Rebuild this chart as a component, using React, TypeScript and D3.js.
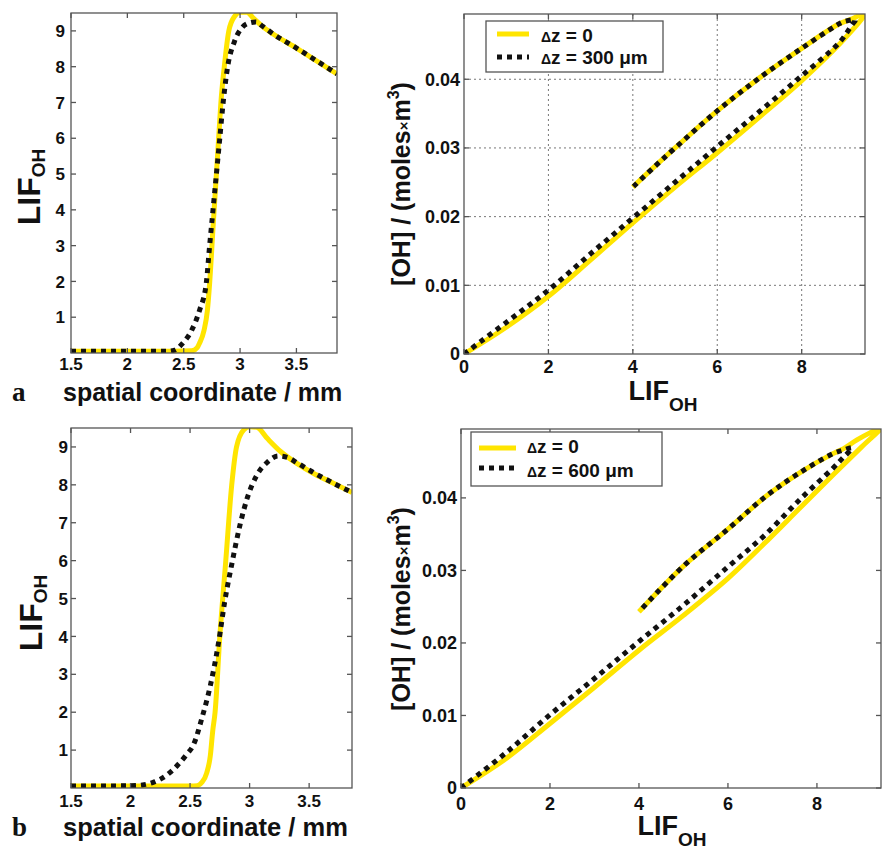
import React from "react";
import * as d3 from "d3";

type Pt = [number, number];

// tick values
const profileXTicks = [1.5, 2, 2.5, 3, 3.5];
const profileYTicks = [1, 2, 3, 4, 5, 6, 7, 8, 9];
const calibXTicks = [0, 2, 4, 6, 8];
const calibYTicks = [0, 0.01, 0.02, 0.03, 0.04];

// panel a, left: LIF_OH vs spatial coordinate (mm)
const profileA0: Pt[] = [
  [1.5, 0.05], [2.0, 0.05], [2.4, 0.05], [2.57, 0.06], [2.62, 0.15], [2.64, 0.27], [2.68, 0.63],
  [2.71, 1.19], [2.73, 1.95], [2.76, 3.5], [2.79, 5.0], [2.81, 6.0], [2.83, 7.0], [2.86, 8.0],
  [2.9, 9.0], [2.95, 9.4], [3.0, 9.52], [3.06, 9.52], [3.12, 9.35], [3.2, 9.12], [3.3, 8.9],
  [3.5, 8.52], [3.7, 8.12], [3.86, 7.8],
];
const profileA300: Pt[] = [
  [1.5, 0.05], [2.0, 0.05], [2.35, 0.05], [2.42, 0.08], [2.49, 0.27], [2.57, 0.63], [2.64, 1.19],
  [2.7, 1.95], [2.73, 3.0], [2.76, 4.0], [2.79, 5.0], [2.82, 6.0], [2.85, 7.0], [2.89, 8.0],
  [2.95, 8.7], [3.02, 9.1], [3.08, 9.22], [3.14, 9.25], [3.2, 9.13], [3.3, 8.9], [3.5, 8.52],
  [3.7, 8.12], [3.86, 7.8],
];

// panel b, left
const profileB0: Pt[] = [
  [1.5, 0.05], [2.0, 0.05], [2.5, 0.05], [2.56, 0.06], [2.6, 0.15], [2.64, 0.4], [2.67, 0.85],
  [2.69, 1.5], [2.71, 2.0], [2.75, 4.0], [2.8, 6.0], [2.85, 8.0], [2.89, 9.0], [2.95, 9.45],
  [3.0, 9.53], [3.06, 9.52], [3.15, 9.22], [3.26, 8.88], [3.4, 8.56], [3.55, 8.28], [3.7, 8.05],
  [3.86, 7.8],
];
const profileB600: Pt[] = [
  [1.5, 0.05], [2.0, 0.06], [2.1, 0.08], [2.2, 0.16], [2.3, 0.33], [2.4, 0.62], [2.47, 0.88],
  [2.53, 1.15], [2.6, 1.85], [2.67, 2.7], [2.74, 3.85], [2.79, 4.9], [2.85, 5.9], [2.92, 6.95],
  [2.98, 7.65], [3.06, 8.25], [3.15, 8.6], [3.24, 8.76], [3.32, 8.72], [3.4, 8.58], [3.55, 8.3],
  [3.7, 8.05], [3.86, 7.8],
];

// panel a, right: [OH] vs LIF_OH (loops)
const calibA0: Pt[] = [
  [0, 0], [1, 0.0039], [2, 0.0084], [3, 0.0137], [4, 0.0191], [5, 0.0243], [6, 0.0293],
  [7, 0.0345], [8, 0.0398], [9, 0.0458], [9.5, 0.0496],
  [9.2, 0.0488], [8.84, 0.0479], [8, 0.0445], [7, 0.0402], [6, 0.0354], [5, 0.0300],
  [4.5, 0.0272], [4, 0.0243],
];
const calibA300: Pt[] = [
  [0, 0], [1, 0.0046], [2, 0.0093], [3, 0.0146], [4, 0.0198], [5, 0.025], [6, 0.0302],
  [7, 0.0353], [8, 0.0405], [8.9, 0.0454], [9.2, 0.048], [9.27, 0.0486],
  [9.0, 0.0484], [8.84, 0.0479], [8, 0.0445], [7, 0.0402], [6, 0.0354], [5, 0.0300],
  [4.5, 0.0272], [4, 0.0243],
];

// panel b, right
const calibB0: Pt[] = [
  [0, 0], [1, 0.004], [2, 0.0089], [3, 0.0139], [4, 0.019], [5, 0.0238], [6, 0.0289],
  [6.8, 0.0336], [7.6, 0.0385], [8.4, 0.0434], [9.0, 0.047], [9.45, 0.0497],
  [9.2, 0.049], [8.9, 0.048], [8.6, 0.0468], [8.36, 0.0461], [7.62, 0.0435], [6.87, 0.0403],
  [6, 0.0357], [5, 0.0306], [4, 0.0243],
];
const calibB600: Pt[] = [
  [0, 0], [1, 0.0048], [2, 0.0101], [3, 0.0151], [4, 0.0202], [5, 0.0252], [6, 0.0305],
  [6.8, 0.0347], [7.62, 0.0398], [8.36, 0.0441], [8.58, 0.0455], [8.79, 0.0469],
  [8.6, 0.0466], [8.36, 0.0461], [7.62, 0.0435], [6.87, 0.0403], [6, 0.0357], [5, 0.0306],
  [4, 0.0243],
];

const YELLOW = "#ffe500";
const AXIS = "#555";
const FONT = "'Liberation Sans', Arial, Helvetica, sans-serif";

type Box = { l: number; r: number; t: number; b: number };

function Panel(props: {
  id: string;
  box: Box;
  xDomain: [number, number];
  yDomain: [number, number];
  xTicks: number[];
  yTicks: number[];
  yFmt: (v: number) => string;
  xTickBase: number;
  yTickGap: number;
  tickSize: number;
  grid?: boolean;
  loop?: boolean;
  yellow: Pt[];
  dashed: Pt[];
}) {
  const { id, box, xDomain, yDomain, xTicks, yTicks, yFmt, xTickBase, yTickGap, tickSize, grid, loop } = props;
  const x = d3.scaleLinear().domain(xDomain).range([box.l, box.r]);
  const y = d3.scaleLinear().domain(yDomain).range([box.b, box.t]);
  const line = d3
    .line<Pt>()
    .x((d) => x(d[0]))
    .y((d) => y(d[1]))
    .curve(loop ? d3.curveCatmullRom.alpha(0.5) : d3.curveMonotoneX);
  const tl = 5;
  return (
    <g>
      <defs>
        <clipPath id={id}>
          <rect x={box.l} y={box.t} width={box.r - box.l} height={box.b - box.t} />
        </clipPath>
      </defs>
      {grid && (
        <g stroke="#777" strokeWidth={1} strokeDasharray="2 3">
          {xTicks.filter((v) => v > xDomain[0]).map((v) => (
            <line key={"gx" + v} x1={x(v)} x2={x(v)} y1={box.t} y2={box.b} />
          ))}
          {yTicks.filter((v) => v > yDomain[0]).map((v) => (
            <line key={"gy" + v} x1={box.l} x2={box.r} y1={y(v)} y2={y(v)} />
          ))}
        </g>
      )}
      <g clipPath={`url(#${id})`} fill="none">
        <path d={line(props.yellow) ?? ""} stroke={YELLOW} strokeWidth={5} strokeLinejoin="round" />
        <path d={line(props.dashed) ?? ""} stroke="#111" strokeWidth={5} strokeDasharray="5 5" />
      </g>
      <g stroke={AXIS} strokeWidth={1.3}>
        <rect x={box.l} y={box.t} width={box.r - box.l} height={box.b - box.t} fill="none" />
        {xTicks.map((v) => (
          <g key={"tx" + v}>
            <line x1={x(v)} x2={x(v)} y1={box.b} y2={box.b - tl} />
            <line x1={x(v)} x2={x(v)} y1={box.t} y2={box.t + tl} />
          </g>
        ))}
        {yTicks.map((v) => (
          <g key={"ty" + v}>
            <line x1={box.l} x2={box.l + tl} y1={y(v)} y2={y(v)} />
            <line x1={box.r} x2={box.r - tl} y1={y(v)} y2={y(v)} />
          </g>
        ))}
      </g>
      <g fontFamily={FONT} fontWeight="bold" fontSize={tickSize} fill="#111">
        {xTicks.map((v) => (
          <text key={"lx" + v} x={x(v)} y={xTickBase} textAnchor="middle">
            {String(v)}
          </text>
        ))}
        {yTicks.map((v) => (
          <text key={"ly" + v} x={box.l - yTickGap} y={y(v)} dy="0.36em" textAnchor="end">
            {yFmt(v)}
          </text>
        ))}
      </g>
    </g>
  );
}

function Legend(props: { x: number; y: number; w: number; h: number; l1: number; l2: number; tx: number; r1: number; r2: number; b1: number; b2: number; label: string }) {
  const { x, y, w, h, l1, l2, tx, r1, r2, b1, b2, label } = props;
  return (
    <g>
      <rect x={x} y={y} width={w} height={h} fill="#fff" stroke={AXIS} strokeWidth={1.3} />
      <line x1={l1} x2={l2} y1={r1} y2={r1} stroke={YELLOW} strokeWidth={5} />
      <line x1={l1} x2={l2} y1={r2} y2={r2} stroke="#111" strokeWidth={5} strokeDasharray="5 5" />
      <g fontFamily={FONT} fontWeight="bold" fontSize={19} fill="#111">
        <text x={tx} y={b1}>
          <tspan fontSize={14}>Δ</tspan>z = 0
        </text>
        <text x={tx} y={b2}>
          <tspan fontSize={14}>Δ</tspan>z = {label} μm
        </text>
      </g>
    </g>
  );
}

function YLabelLIF({ x, y }: { x: number; y: number }) {
  return (
    <text transform={`translate(${x},${y}) rotate(-90)`} textAnchor="middle" fontFamily={FONT} fontWeight="bold" fill="#111">
      <tspan fontSize={32}>LIF</tspan>
      <tspan fontSize={19} dy={5}>OH</tspan>
    </text>
  );
}

function YLabelOH({ x, y }: { x: number; y: number }) {
  return (
    <text transform={`translate(${x},${y}) rotate(-90)`} textAnchor="middle" fontFamily={FONT} fontWeight="bold" fill="#111" fontSize={25}>
      <tspan>[OH] / (moles</tspan>
      <tspan fontSize={15} dy={-1}>×</tspan>
      <tspan dy={1}>m</tspan>
      <tspan fontSize={16} dy={-11}>3</tspan>
      <tspan dy={11}>)</tspan>
    </text>
  );
}

function XLabelLIF({ x, y }: { x: number; y: number }) {
  return (
    <text x={x} y={y} textAnchor="middle" fontFamily={FONT} fontWeight="bold" fill="#111">
      <tspan fontSize={27}>LIF</tspan>
      <tspan fontSize={19} dy={11}>OH</tspan>
    </text>
  );
}

export default function App() {
  const f1 = (v: number) => String(v);
  const f2 = (v: number) => (v === 0 ? "0" : v.toFixed(2));
  return (
    <svg width={882} height={850} style={{ display: "block", position: "absolute", left: 0, top: 0, background: "#fff" }}>
      <rect width={882} height={850} fill="#fff" />
      {/* panel a */}
      <Panel id="cA1" box={{ l: 71, r: 337, t: 13, b: 353 }} xDomain={[1.5, 3.86]} yDomain={[0, 9.5]}
        xTicks={profileXTicks} yTicks={profileYTicks} yFmt={f1} xTickBase={370} yTickGap={6} tickSize={17}
        yellow={profileA0} dashed={profileA300} />
      <Panel id="cA2" box={{ l: 464, r: 865, t: 14, b: 354 }} xDomain={[0, 9.5]} yDomain={[0, 0.0495]}
        xTicks={calibXTicks} yTicks={calibYTicks} yFmt={f2} xTickBase={373} yTickGap={4} tickSize={18}
        grid loop yellow={calibA0} dashed={calibA300} />
      <Legend x={486} y={21} w={177} h={51} l1={497} l2={529} tx={541} r1={34} r2={57} b1={42} b2={64} label="300" />
      <YLabelLIF x={40} y={187} />
      <YLabelOH x={410} y={184} />
      <XLabelLIF x={663} y={400} />
      <text x={63} y={401} fontFamily={FONT} fontWeight="bold" fontSize={25} fill="#111">spatial coordinate / mm</text>
      <text x={12} y={401} fontFamily="'Liberation Serif', 'Times New Roman', serif" fontWeight="bold" fontSize={27} fill="#111">a</text>

      {/* panel b */}
      <Panel id="cB1" box={{ l: 71, r: 352, t: 428, b: 788 }} xDomain={[1.5, 3.86]} yDomain={[0, 9.5]}
        xTicks={profileXTicks} yTicks={profileYTicks} yFmt={f1} xTickBase={807} yTickGap={3} tickSize={17}
        yellow={profileB0} dashed={profileB600} />
      <Panel id="cB2" box={{ l: 461, r: 881, t: 429, b: 788 }} xDomain={[0, 9.44]} yDomain={[0, 0.0495]}
        xTicks={calibXTicks} yTicks={calibYTicks} yFmt={f2} xTickBase={810} yTickGap={4} tickSize={18}
        loop yellow={calibB0} dashed={calibB600} />
      <Legend x={471} y={432} w={191} h={54} l1={479} l2={516} tx={527} r1={448} r2={468} b1={453} b2={477} label="600" />
      <YLabelLIF x={42} y={613} />
      <YLabelOH x={410} y={609} />
      <XLabelLIF x={672} y={835} />
      <text x={63} y={836} fontFamily={FONT} fontWeight="bold" fontSize={25.5} fill="#111">spatial coordinate / mm</text>
      <text x={12} y={836} fontFamily="'Liberation Serif', 'Times New Roman', serif" fontWeight="bold" fontSize={27} fill="#111">b</text>
    </svg>
  );
}
